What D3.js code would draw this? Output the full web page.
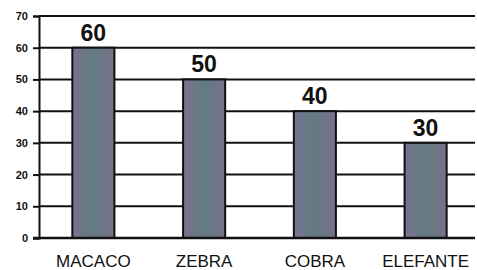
<!doctype html>
<html>
<head>
<meta charset="utf-8">
<script src="https://d3js.org/d3.v7.min.js"></script>
<style>
  body { margin: 0; background: #fff; }
  svg text { font-family: "Liberation Sans", Arial, sans-serif; }
</style>
</head>
<body>
<script>
// chart data
var animals = ["MACACO", "ZEBRA", "COBRA", "ELEFANTE"];
var counts = [60, 50, 40, 30];
var yTicks = [0, 10, 20, 30, 40, 50, 60, 70];

var W = 477, H = 270;
var svg = d3.select("body").append("svg")
    .attr("width", W)
    .attr("height", H);

// bar gradient (greyish purple edges, teal-ish middle)
var grad = svg.append("defs").append("linearGradient")
    .attr("id", "barfill")
    .attr("x1", "0%").attr("x2", "100%").attr("y1", "0%").attr("y2", "0%");
grad.append("stop").attr("offset", "0%").attr("stop-color", "#7a7190");
grad.append("stop").attr("offset", "45%").attr("stop-color", "#627c80");
grad.append("stop").attr("offset", "100%").attr("stop-color", "#78708c");

var x = d3.scaleBand()
    .domain(animals)
    .range([38, 481])
    .paddingInner(0.62)
    .paddingOuter(0.31);

var y = d3.scaleLinear()
    .domain([0, 70])
    .range([238, 16]);

// gridlines
svg.append("g")
  .selectAll("line")
  .data(yTicks)
  .join("line")
    .attr("x1", 39)
    .attr("x2", 475)
    .attr("y1", d => y(d))
    .attr("y2", d => y(d))
    .attr("stroke", "#111")
    .attr("stroke-width", 2);

// y axis
var yAxis = d3.axisLeft(y).tickValues(yTicks).tickSize(6).tickPadding(5);
var gy = svg.append("g")
    .attr("transform", "translate(39,0)")
    .call(yAxis);
gy.select(".domain").attr("stroke", "#111").attr("stroke-width", 2);
gy.selectAll(".tick line").attr("stroke", "#111").attr("stroke-width", 2);
gy.selectAll(".tick text")
    .attr("font-size", 11)
    .attr("font-weight", "bold")
    .attr("fill", "#111");

// bars
svg.append("g")
  .selectAll("rect")
  .data(counts)
  .join("rect")
    .attr("x", (d, i) => x(animals[i]))
    .attr("width", x.bandwidth())
    .attr("y", d => y(d))
    .attr("height", d => y(0) - y(d))
    .attr("fill", "url(#barfill)")
    .attr("stroke", "#111")
    .attr("stroke-width", 2);

// value labels
svg.append("g")
  .selectAll("text")
  .data(counts)
  .join("text")
    .attr("x", (d, i) => x(animals[i]) + x.bandwidth() / 2)
    .attr("y", d => y(d) - 7)
    .attr("text-anchor", "middle")
    .attr("font-size", 23)
    .attr("font-weight", "bold")
    .attr("fill", "#111")
    .text(d => d);

// baseline
svg.append("line")
    .attr("x1", 33).attr("x2", 475)
    .attr("y1", y(0)).attr("y2", y(0))
    .attr("stroke", "#111")
    .attr("stroke-width", 2.5);

// category labels
svg.append("g")
  .selectAll("text")
  .data(animals)
  .join("text")
    .attr("x", d => x(d) + x.bandwidth() / 2)
    .attr("y", 267)
    .attr("text-anchor", "middle")
    .attr("font-size", 17)
    .attr("font-family", "'Liberation Sans Narrow', 'Open Sans', sans-serif")
    .attr("fill", "#111")
    .text(d => d);
</script>
</body>
</html>
